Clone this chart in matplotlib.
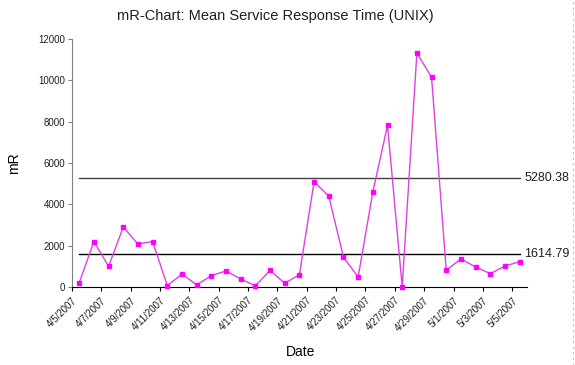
import matplotlib
matplotlib.use("Agg")
import matplotlib.pyplot as plt
from matplotlib.lines import Line2D
import numpy as np
import pandas as pd

plt.rcParams['font.family'] = ['Liberation Sans', 'DejaVu Sans']

# datos
fechas = pd.date_range("2007-04-05", "2007-05-05", freq="D")
valores_mr = [200, 2200, 1000, 2900, 2080, 2200, 60, 630, 100, 550,
              775, 390, 60, 800, 180, 600, 5100, 4390, 1440, 480,
              4600, 7820, 10, 11320, 10145, 810, 1355, 970, 645, 1015,
              1225]
limite_sup = 5280.38
media_mr = 1614.79
titulo = "mR-Chart: Mean Service Response Time (UNIX)"

etiquetas = [f"{d.month}/{d.day}/{d.year}" for d in fechas]

fig = plt.figure(figsize=(5.75, 3.65), dpi=100)
ax = fig.add_axes([0.125, 0.2137, 0.7915, 0.6795])

x = np.arange(len(valores_mr))
ax.plot(x, [limite_sup] * len(x), color='#404040', lw=1)
ax.plot(x, [media_mr] * len(x), color='black', lw=1)
ax.plot(x, valores_mr, color='#e040e0', lw=1, marker='s', ms=3,
        mfc='#ff00ff', mec='#ff00ff', clip_on=False, zorder=3)

ax.text(x[-1] + 0.3, limite_sup, f"{limite_sup:.2f}", va='center', ha='left',
        fontsize=9, color='#202020')
ax.text(x[-1] + 0.3, media_mr, f"{media_mr:.2f}", va='center', ha='left',
        fontsize=9, color='#202020')

ax.set_xlim(-0.5, len(x) - 0.5)
ax.set_ylim(0, 12000)
ax.set_yticks(np.arange(0, 12001, 2000))
ax.tick_params(axis='y', labelsize=7, length=3, color='#808080', pad=2,
               labelcolor='#202020')

pos_ticks = np.arange(-0.5, len(x) - 0.5, 2)
ax.set_xticks(pos_ticks)
ax.set_xticklabels(etiquetas[::2], rotation=45, ha='right', va='top',
                   rotation_mode='anchor', fontsize=7, color='#202020')
ax.tick_params(axis='x', length=3, pad=3)

for s in ['top', 'right']:
    ax.spines[s].set_visible(False)
ax.spines['left'].set_color('#808080')
ax.spines['bottom'].set_color('black')

fig.text(14 / 575, 1 - 163 / 365, "mR", fontsize=10, rotation=90,
         ha='center', va='center')
fig.text(0.522, 0.035, "Date", fontsize=10, ha='center', va='center')
fig.text(0.478, 0.955, titulo, fontsize=10.5, ha='center', va='center',
         color='#202020')

# borde punteado a la derecha
fig.add_artist(Line2D([573 / 575, 573 / 575], [0, 1], transform=fig.transFigure,
                      color='#c0c0c0', lw=0.8, ls=(0, (2, 3))))

fig.savefig("out.png", dpi=100)
